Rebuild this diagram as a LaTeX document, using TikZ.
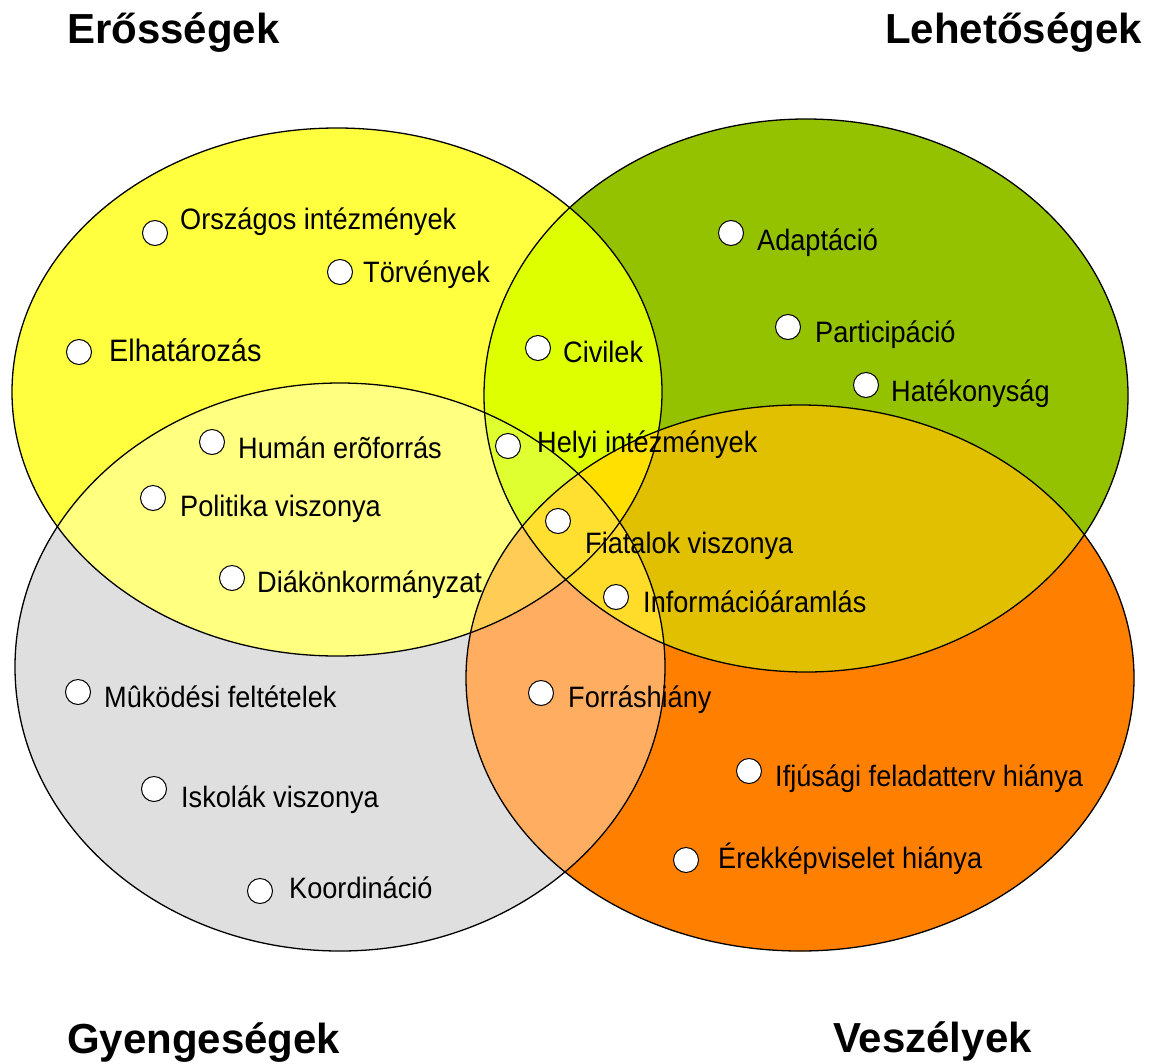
\documentclass[tikz,border=0pt]{standalone}
\usepackage{fontspec}
\setmainfont{Liberation Sans}
\newfontfamily\bodyf[FakeStretch=0.92]{Liberation Sans}
\newfontfamily\bigbodyf[FakeStretch=0.93]{Liberation Sans}
\definecolor{cY}{HTML}{FFFF40}
\definecolor{cGn}{HTML}{94C100}
\definecolor{cGy}{HTML}{DFDFDF}
\definecolor{cO}{HTML}{FF8000}
\definecolor{cYGn}{HTML}{DDFF00}
\definecolor{cYGy}{HTML}{FFFF80}
\definecolor{cYO}{HTML}{FFC040}
\definecolor{cGnGy}{HTML}{C8E070}
\definecolor{cGnO}{HTML}{E0C000}
\definecolor{cGyO}{HTML}{FFAD60}
\definecolor{cYGnGy}{HTML}{E0FF30}
\definecolor{cYGnO}{HTML}{FFE000}
\definecolor{cYGyO}{HTML}{FFCC55}
\definecolor{cGnGyO}{HTML}{FFDB2A}
\definecolor{cAll}{HTML}{FFE030}
\def\EY{(337,392) ellipse [x radius=325pt, y radius=264pt]}
\def\EGn{(806,395.5) ellipse [x radius=322pt, y radius=276.5pt]}
\def\EGy{(340,667) ellipse [x radius=325pt, y radius=284pt]}
\def\EO{(800,678) ellipse [x radius=334pt, y radius=273pt]}
\tikzset{
  edge/.style={draw=black, line width=1.3pt},
  dot/.style={circle, draw=black, fill=white, minimum size=25pt, inner sep=0pt, line width=1pt},
  lbl/.style={anchor=base west, inner sep=0pt, font=\bodyf\fontsize{29.5}{35}\selectfont},
  biglbl/.style={anchor=base west, inner sep=0pt, font=\bigbodyf\fontsize{31}{37}\selectfont},
  title/.style={anchor=base west, inner sep=0pt, font=\fontsize{42}{50}\selectfont\bfseries}
}
\begin{document}
\begin{tikzpicture}[x=1pt,y=-1pt]
\useasboundingbox (0,0) rectangle (1153,1063);
% single regions
\fill[cY] \EY;
\fill[cGn] \EGn;
\fill[cGy] \EGy;
\fill[cO] \EO;
% pairs
\begin{scope}\clip \EY; \fill[cYGn] \EGn; \end{scope}
\begin{scope}\clip \EY; \fill[cYGy] \EGy; \end{scope}
\begin{scope}\clip \EY; \fill[cYO] \EO; \end{scope}
\begin{scope}\clip \EGn; \fill[cGnGy] \EGy; \end{scope}
\begin{scope}\clip \EGn; \fill[cGnO] \EO; \end{scope}
\begin{scope}\clip \EGy; \fill[cGyO] \EO; \end{scope}
% triples
\begin{scope}\clip \EY; \clip \EGn; \fill[cYGnGy] \EGy; \end{scope}
\begin{scope}\clip \EY; \clip \EGn; \fill[cYGnO] \EO; \end{scope}
\begin{scope}\clip \EY; \clip \EGy; \fill[cYGyO] \EO; \end{scope}
\begin{scope}\clip \EGn; \clip \EGy; \fill[cGnGyO] \EO; \end{scope}
% all four
\begin{scope}\clip \EY; \clip \EGn; \clip \EGy; \fill[cAll] \EO; \end{scope}
% outlines
\draw[edge] \EY;
\draw[edge] \EGn;
\draw[edge] \EGy;
\draw[edge] \EO;
% titles
\node[title] (erossegek) at (67,43) {Erősségek};
\node[title] (lehetosegek) at (885,43) {Lehetőségek};
\node[title] (gyengesegek) at (67,1053) {Gyengeségek};
\node[title] (veszelyek) at (833,1052) {Veszélyek};
% items
\node[dot] (d1) at (155,233) {};  \node[lbl] (t1) at (180,229) {Országos intézmények};
\node[dot] (d2) at (340,272) {};  \node[lbl] (t2) at (363,282) {Törvények};
\node[dot] (d3) at (79,352) {};   \node[biglbl] (t3) at (109,361) {Elhatározás};
\node[dot] (d4) at (538,348) {};  \node[lbl] (t4) at (563,362) {Civilek};
\node[dot] (d5) at (731,233) {};  \node[lbl] (t5) at (757,250) {Adaptáció};
\node[dot] (d6) at (788,327) {};  \node[lbl] (t6) at (815,342) {Participáció};
\node[dot] (d7) at (866,385) {};  \node[lbl] (t7) at (891,401) {Hatékonyság};
\node[dot] (d8) at (212,442) {};  \node[lbl] (t8) at (238,458) {Humán erõforrás};
\node[dot] (d9) at (508,446) {};  \node[lbl] (t9) at (537,452) {Helyi intézmények};
\node[dot] (d10) at (153,498) {}; \node[lbl] (t10) at (180,516) {Politika viszonya};
\node[dot] (d11) at (558,521) {}; \node[lbl] (t11) at (585,553) {Fiatalok viszonya};
\node[dot] (d12) at (232,578) {}; \node[lbl] (t12) at (257,592) {Diákönkormányzat};
\node[dot] (d13) at (616,597) {}; \node[lbl] (t13) at (643,612) {Információáramlás};
\node[dot] (d14) at (78,692) {};  \node[lbl] (t14) at (104,707) {Mûködési feltételek};
\node[dot] (d15) at (541,693) {}; \node[lbl] (t15) at (568,707) {Forráshiány};
\node[dot] (d16) at (749,771) {}; \node[lbl] (t16) at (775,786) {Ifjúsági feladatterv hiánya};
\node[dot] (d17) at (154,789) {}; \node[lbl] (t17) at (181,807) {Iskolák viszonya};
\node[dot] (d18) at (686,860) {}; \node[lbl] (t18) at (718,868) {Érekképviselet hiánya};
\node[dot] (d19) at (260,891) {}; \node[lbl] (t19) at (289,898) {Koordináció};
\end{tikzpicture}
\end{document}
